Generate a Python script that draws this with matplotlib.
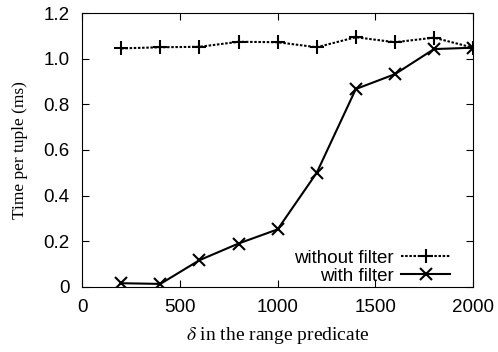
import matplotlib
matplotlib.use("Agg")
import matplotlib.pyplot as plt

plt.rcParams["mathtext.fontset"] = "stix"

delta = [200, 400, 600, 800, 1000, 1200, 1400, 1600, 1800, 2000]
without_filter = [1.045, 1.05, 1.052, 1.074, 1.072, 1.05, 1.094, 1.072, 1.092, 1.048]
with_filter = [0.016, 0.013, 0.117, 0.19, 0.252, 0.50, 0.867, 0.932, 1.042, 1.048]
xticks = [0, 500, 1000, 1500, 2000]
yticks = [0, 0.2, 0.4, 0.6, 0.8, 1.0, 1.2]
ytick_labels = ["0", "0.2", "0.4", "0.6", "0.8", "1.0", "1.2"]

fig = plt.figure(figsize=(4.98, 3.52), dpi=100)
ax = fig.add_axes([0.165, 0.185, 0.785, 0.778])

ax.plot(delta, without_filter, color="black", lw=1.5, ls=(0, (1.2, 0.8)),
        marker="+", ms=10, mew=1.5, label="without filter")
ax.plot(delta, with_filter, color="black", lw=1.5, ls="-",
        marker="x", ms=9, mew=1.5, label="with filter")

ax.set_xlim(0, 2000)
ax.set_ylim(0, 1.2)
ax.set_xticks(xticks)
ax.set_yticks(yticks)
ax.set_yticklabels(ytick_labels)
ax.tick_params(direction="in", top=True, right=True, length=5, width=0.8,
               labelsize=13.5)
ax.tick_params(axis="x", pad=9)
ax.tick_params(axis="y", pad=9)
for lbl in ax.get_xticklabels() + ax.get_yticklabels():
    lbl.set_family("Liberation Sans")
for s in ax.spines.values():
    s.set_linewidth(0.8)

ax.set_xlabel(r"$\delta$ in the range predicate", family="Liberation Serif",
              fontsize=14, labelpad=6)
ax.set_ylabel("Time per tuple (ms)", family="Liberation Serif", fontsize=12.5,
              labelpad=11)

leg = ax.legend(loc="lower right", frameon=False, markerfirst=False,
                prop={"family": "Liberation Sans", "size": 13.5},
                handlelength=2.6, handletextpad=0.4, labelspacing=0.05,
                borderaxespad=0.0, bbox_to_anchor=(0.96, -0.02))

fig.savefig("out.png", dpi=100)
